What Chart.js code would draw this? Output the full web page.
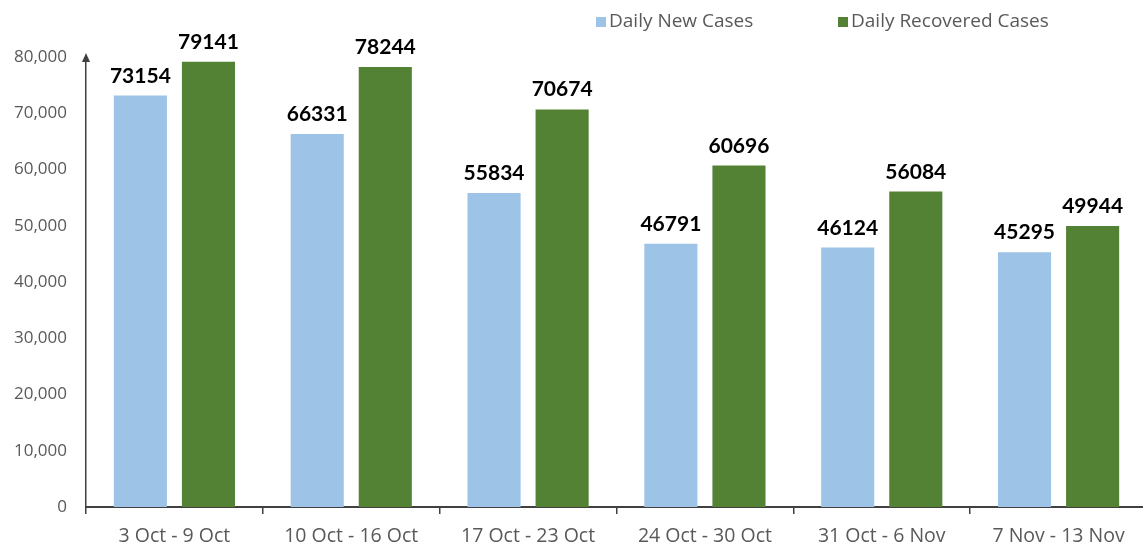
<!DOCTYPE html>
<html><head><meta charset="utf-8">
<script src="https://cdn.jsdelivr.net/npm/chart.js@4"></script>
<style>html,body{margin:0;padding:0;background:#fff;overflow:hidden;width:1143px;height:547px}
#wrap{width:1150px;height:547px}</style></head>
<body><div id="wrap"><canvas id="c" width="1150" height="547"></canvas></div>
<script>
const categories = ['3 Oct - 9 Oct', '10 Oct - 16 Oct', '17 Oct - 23 Oct', '24 Oct - 30 Oct', '31 Oct - 6 Nov', '7 Nov - 13 Nov'];
const newCases = [73154, 66331, 55834, 46791, 46124, 45295];
const recoveredCases = [79141, 78244, 70674, 60696, 56084, 49944];
const seriesNames = ['Daily New Cases', 'Daily Recovered Cases'];
const yTickValues = [0, 10000, 20000, 30000, 40000, 50000, 60000, 70000, 80000];

const FONT = 'Lato, "Open Sans", sans-serif';
const FONT2 = '"Open Sans", Lato, sans-serif';
const TXT = '#595959';
const AXIS = '#404040';

const valueLabels = {
  id: 'valueLabels',
  afterDatasetsDraw(chart) {
    const ctx = chart.ctx;
    ctx.save();
    ctx.font = 'bold 21px ' + FONT;
    ctx.fillStyle = '#000';
    ctx.textAlign = 'center';
    ctx.textBaseline = 'alphabetic';
    chart.data.datasets.forEach((ds, i) => {
      chart.getDatasetMeta(i).data.forEach((bar, j) => {
        ctx.fillText(String(ds.data[j]), bar.x, bar.y - 13);
      });
    });
    ctx.restore();
  }
};

const customLegend = {
  id: 'customLegend',
  afterDraw(chart) {
    const ctx = chart.ctx;
    const xs = [596, 838];
    ctx.save();
    ctx.font = '19px ' + FONT2;
    ctx.textBaseline = 'middle';
    ctx.textAlign = 'left';
    chart.data.datasets.forEach((ds, i) => {
      ctx.fillStyle = ds.backgroundColor;
      ctx.fillRect(xs[i], 17, 10, 10);
      ctx.fillStyle = TXT;
      ctx.fillText(ds.label, xs[i] + 13, 22);
    });
    ctx.restore();
  }
};

const yArrow = {
  id: 'yArrow',
  afterDraw(chart) {
    const ctx = chart.ctx;
    const x = chart.chartArea.left;
    const t = chart.chartArea.top;
    ctx.save();
    ctx.fillStyle = AXIS;
    ctx.beginPath();
    ctx.moveTo(x, t - 4);
    ctx.lineTo(x - 4, t + 5);
    ctx.lineTo(x + 4, t + 5);
    ctx.closePath();
    ctx.fill();
    ctx.restore();
  }
};

new Chart(document.getElementById('c'), {
  type: 'bar',
  data: {
    labels: categories,
    datasets: [
      { label: seriesNames[0], data: newCases, backgroundColor: '#9DC3E6', categoryPercentage: 0.77, barPercentage: 0.78 },
      { label: seriesNames[1], data: recoveredCases, backgroundColor: '#548235', categoryPercentage: 0.77, barPercentage: 0.78 }
    ]
  },
  options: {
    responsive: false,
    animation: false,
    devicePixelRatio: 1,
    layout: { padding: { top: 57, left: 6, right: 3, bottom: 0 } },
    plugins: { legend: { display: false }, tooltip: { enabled: false } },
    scales: {
      x: {
        afterFit(s) { s.height = 40; },
        grid: { display: true, drawOnChartArea: false, drawTicks: true, tickLength: 7, color: AXIS, lineWidth: 1.5, offset: true },
        border: { display: true, color: AXIS, width: 2 },
        ticks: { color: TXT, font: { family: FONT2, size: 19.5 }, padding: 11, maxRotation: 0, autoSkip: false }
      },
      y: {
        min: 0, max: 80000,
        afterFit(s) { s.width = 80; },
        afterBuildTicks(s) { s.ticks = yTickValues.map(v => ({ value: v })); },
        grid: { display: false, drawTicks: false },
        border: { display: true, color: AXIS, width: 1.5 },
        ticks: {
          color: TXT, font: { family: FONT2, size: 17 }, padding: 19,
          callback: v => Number(v).toLocaleString('en-US')
        }
      }
    }
  },
  plugins: [valueLabels, customLegend, yArrow]
});
</script>
</body></html>
